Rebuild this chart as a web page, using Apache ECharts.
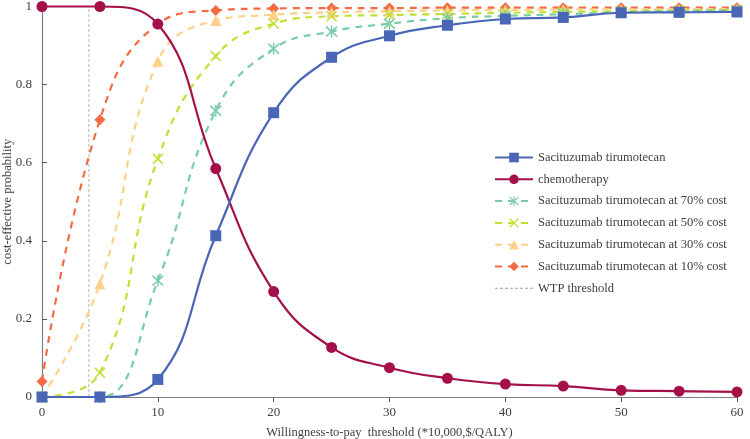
<!DOCTYPE html>
<html><head><meta charset="utf-8">
<script src="https://cdn.jsdelivr.net/npm/echarts@6/dist/echarts.min.js"></script>
<style>html,body{margin:0;padding:0;background:#fff}#c{width:750px;height:439px}</style>
</head><body><div id="c"></div>
<script>
var wtp = [0,5,10,15,20,25,30,35,40,45,50,55,60];
var saci = [0,0,0.045,0.413,0.728,0.87,0.925,0.952,0.968,0.972,0.984,0.985,0.986];
var chemo = [1,1,0.955,0.585,0.27,0.127,0.075,0.048,0.033,0.028,0.017,0.015,0.013];
var saci70 = [0,0,0.298,0.733,0.892,0.936,0.956,0.97,0.976,0.98,0.985,0.988,0.99];
var saci50 = [0,0.062,0.61,0.873,0.956,0.975,0.978,0.981,0.984,0.986,0.988,0.99,0.991];
var saci30 = [0,0.29,0.86,0.964,0.979,0.985,0.988,0.99,0.991,0.992,0.993,0.993,0.994];
var saci10 = [0.04,0.71,0.955,0.99,0.995,0.996,0.996,0.997,0.997,0.997,0.997,0.997,0.997];
var wtpThreshold = 4.05;
var yTicks = [0,0.2,0.4,0.6,0.8,1];

var font = 'Liberation Serif';
function pts(arr){ return wtp.map(function(x,i){ return [x, arr[i]]; }); }
var X = 'path://M0,1 L1,0 L5,4 L9,0 L10,1 L6,5 L10,9 L9,10 L5,6 L1,10 L0,9 L4,5 Z';
var AST = 'path://M0,1 L1,0 L5,4 L9,0 L10,1 L6,5 L10,9 L9,10 L5,6 L1,10 L0,9 L4,5 Z M4.4,-0.5 L5.6,-0.5 L5.6,3.6 L4.4,3.6 Z M4.4,6.4 L5.6,6.4 L5.6,10.5 L4.4,10.5 Z';
var DASH = 'path://M0,0 L3,0 L3,1 L0,1 Z M5,0 L8,0 L8,1 L5,1 Z M10,0 L13,0 L13,1 L10,1 Z M15,0 L18,0 L18,1 L15,1 Z M20,0 L23,0 L23,1 L20,1 Z M25,0 L28,0 L28,1 L25,1 Z M30,0 L33,0 L33,1 L30,1 Z M35,0 L38,0 L38,1 L35,1 Z';

function ser(name, arr, color, symbol, size, dashed, width){
  return {
    name: name, type: 'line', data: pts(arr), smooth: 0.45,
    symbol: symbol, symbolSize: size, showAllSymbol: true, clip: false,
    lineStyle: {color: color, width: width || 2.2, type: dashed ? [7,6] : 'solid'},
    itemStyle: {color: color}, z: 3
  };
}

var chart = echarts.init(document.getElementById('c'));
chart.setOption({
  backgroundColor: '#fff',
  animation: false,
  textStyle: {fontFamily: font},
  grid: {left: 42, right: 13, top: 6.5, bottom: 42, containLabel: false, outerBoundsMode: 'none'},
  xAxis: {
    type: 'value', min: 0, max: 60, interval: 10,
    name: 'Willingness-to-pay  threshold (*10,000,$/QALY)', nameLocation: 'middle', nameGap: 29,
    nameMoveOverlap: false,
    nameTextStyle: {fontFamily: font, fontSize: 12.5, color: '#404040'},
    axisLine: {lineStyle: {color: '#7f7f7f', width: 1.2}},
    axisTick: {show: true, length: 5, lineStyle: {color: '#595959'}},
    axisLabel: {fontFamily: font, fontSize: 13, color: '#404040', margin: 9},
    splitLine: {show: false}
  },
  yAxis: {
    type: 'value', min: 0, max: 1, interval: 0.2,
    name: 'cost-effective probability', nameLocation: 'middle', nameGap: 28,
    nameMoveOverlap: false,
    nameTextStyle: {fontFamily: font, fontSize: 12.5, color: '#404040'},
    axisLine: {show: true, lineStyle: {color: '#7f7f7f', width: 1.2}},
    axisTick: {show: true, inside: true, length: 5, lineStyle: {color: '#595959'}},
    axisLabel: {fontFamily: font, fontSize: 13, color: '#404040', margin: 10,
      formatter: function(v){ var m = yTicks.filter(function(t){return Math.abs(t-v)<1e-6;}); return m.length ? String(+v.toFixed(1)) : ''; }},
    splitLine: {show: false}
  },
  legend: {
    orient: 'vertical', left: 489, top: 146, itemGap: 8.8, itemWidth: 38, itemHeight: 12,
    textStyle: {fontFamily: font, fontSize: 12.5, color: '#404040'},
    data: ['Sacituzumab tirumotecan','chemotherapy','Sacituzumab tirumotecan at 70% cost','Sacituzumab tirumotecan at 50% cost','Sacituzumab tirumotecan at 30% cost','Sacituzumab tirumotecan at 10% cost',
      {name: 'WTP threshold', icon: DASH, itemStyle: {color: '#a0a0a0'}}]
  },
  series: [
    {name: 'WTP threshold', type: 'line', data: [[wtpThreshold, 0],[wtpThreshold, 1]], symbol: 'none',
      lineStyle: {color: '#a0a0a0', width: 0.8, type: [3,2]}, itemStyle: {color: '#a0a0a0'}, z: 1},
    ser('Sacituzumab tirumotecan at 10% cost', saci10, '#f46b43', 'diamond', 11, true),
    ser('Sacituzumab tirumotecan at 30% cost', saci30, '#fdd187', 'triangle', 11, true),
    ser('Sacituzumab tirumotecan at 50% cost', saci50, '#bde234', X, 11, true),
    ser('Sacituzumab tirumotecan at 70% cost', saci70, '#78cda6', AST, 12, true),
    ser('chemotherapy', chemo, '#a5104b', 'circle', 11, false, 2.2),
    ser('Sacituzumab tirumotecan', saci, '#4a66b6', 'rect', 11, false, 2.2)
  ]
});
</script></body></html>
